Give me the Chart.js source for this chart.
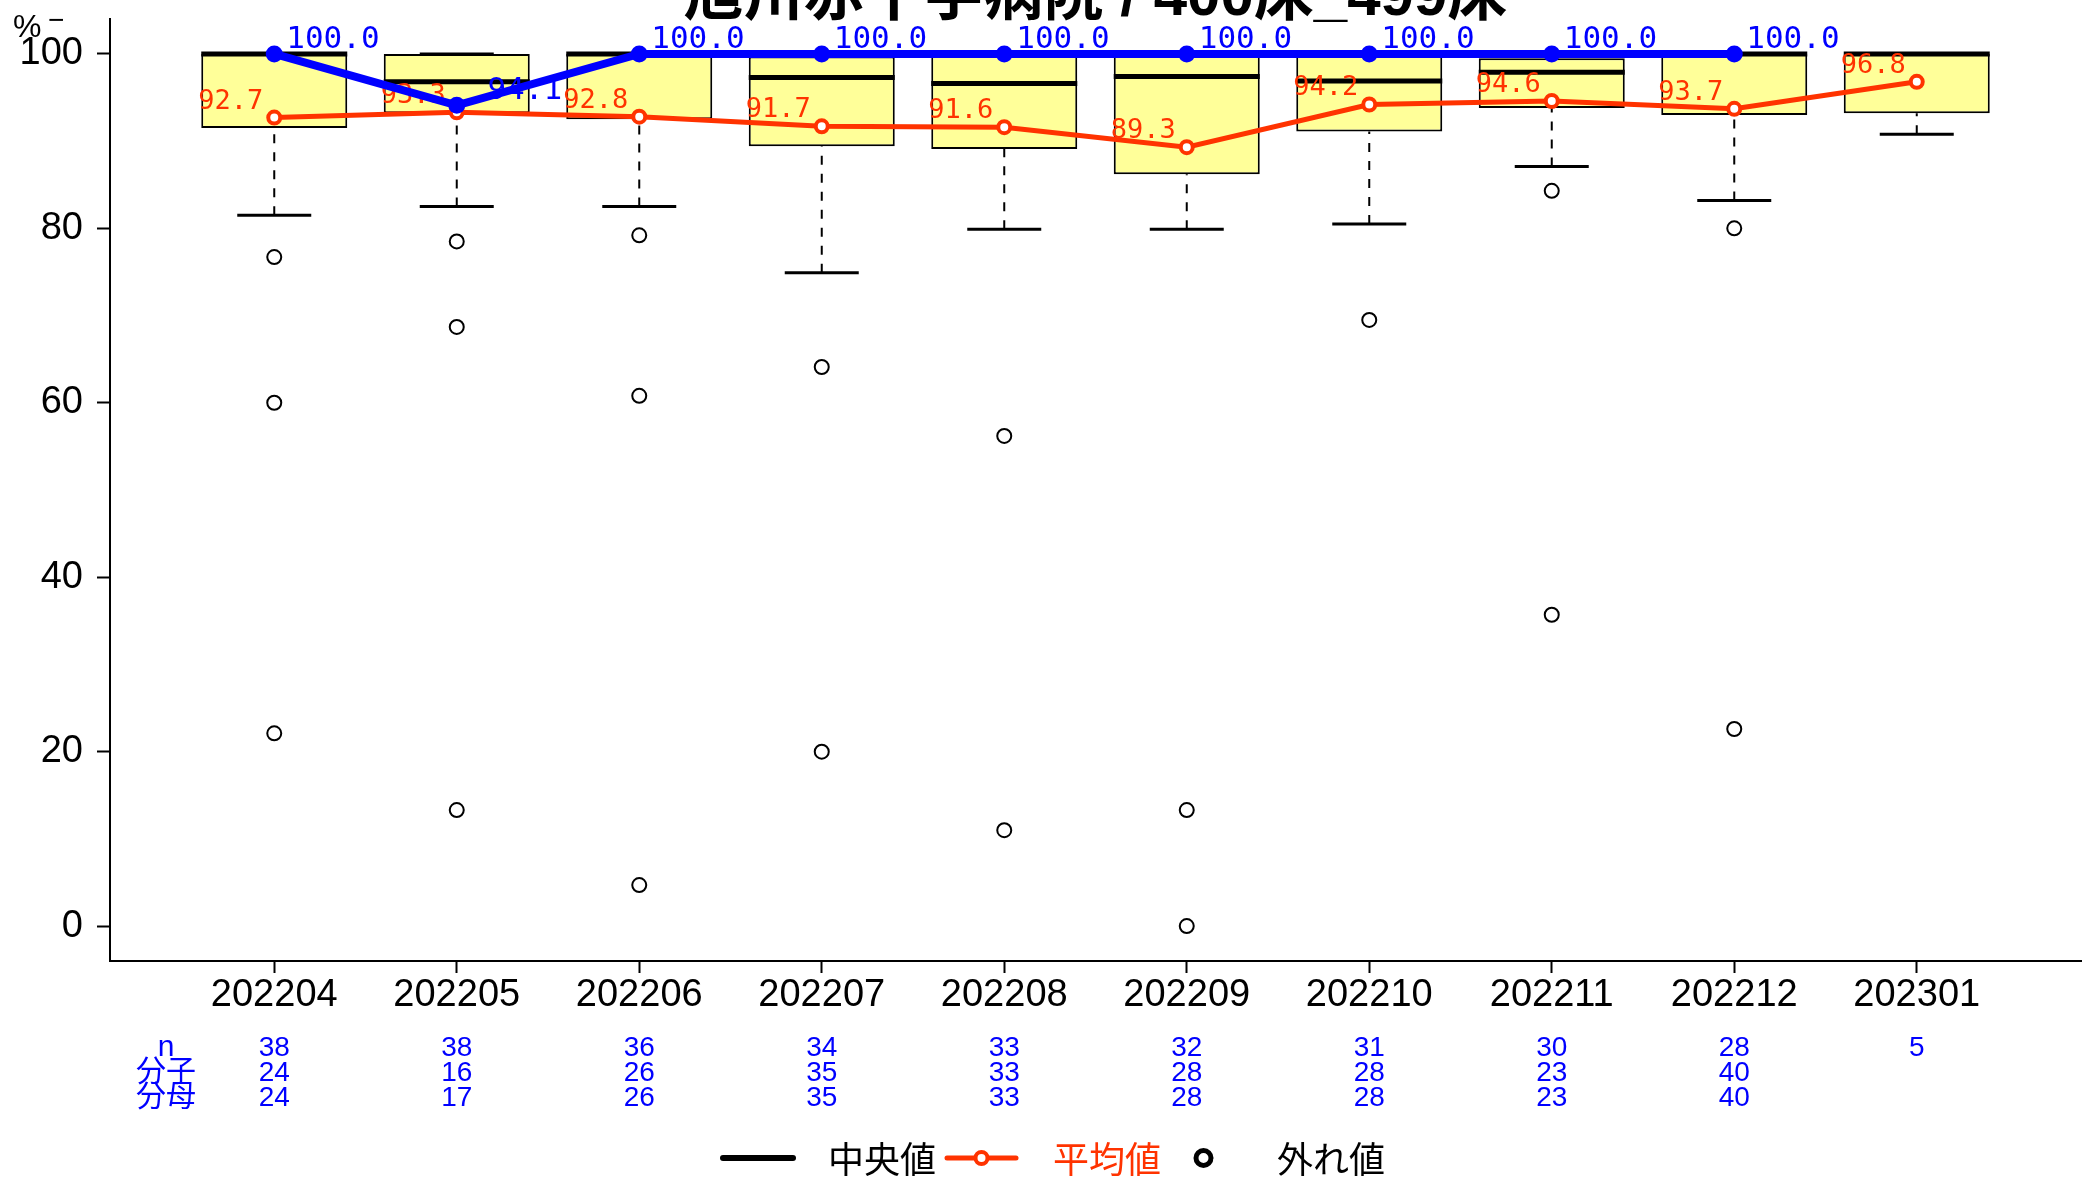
<!DOCTYPE html>
<html>
<head>
<meta charset="utf-8">
<script src="https://cdn.jsdelivr.net/npm/chart.js@4.4.1/dist/chart.umd.min.js"></script>
<style>
    body { margin: 0; background: #fff; }
    #wrap { width: 2089px; height: 1180px; }
</style>
</head>
<body>
<div id="wrap"><canvas id="myChart"></canvas></div>
<script>
const months = ["202204", "202205", "202206", "202207", "202208",
    "202209", "202210", "202211", "202212", "202301"];
const yTicks = [0, 20, 40, 60, 80, 100];

// box plot of all hospitals
const whiskerLow = [81.5, 82.5, 82.5, 74.9, 79.9, 79.9, 80.5, 87.1, 83.2, 90.8];
const boxQ1 = [91.5, 93.2, 92.5, 89.4, 89.1, 86.2, 91.1, 93.8, 93.0, 93.2];
const boxMedian = [100, 96.8, 100, 97.3, 96.6, 97.4, 96.9, 97.9, 100, 100];
const boxQ3 = [100, 100, 100, 99.7, 99.9, 100, 100, 99.5, 100, 100];
const whiskerHigh = [100, 100, 100, 100, 100, 100, 100, 100, 100, 100];
const outliers = [
    [76.7, 60.0, 22.1],
    [78.5, 68.7, 13.3],
    [79.2, 60.8, 4.7],
    [64.1, 20.0],
    [56.2, 11.0],
    [13.3, 0],
    [69.5],
    [84.3, 35.7],
    [80.0, 22.6],
    [],
];
const means = [92.7, 93.3, 92.8, 91.7, 91.6, 89.3, 94.2, 94.6, 93.7, 96.8];

// this hospital
const hospital = [100, 94.1, 100, 100, 100, 100, 100, 100, 100, null];

// table under the axis
const countN = [38, 38, 36, 34, 33, 32, 31, 30, 28, 5];
const numerator = [24, 16, 26, 35, 33, 28, 28, 23, 40, null];
const denominator = [24, 17, 26, 35, 33, 28, 28, 23, 40, null];

const titleText = "旭川赤十字病院 / 400床_499床";
const legendLabels = ["中央値", "平均値", "外れ値"];

const RED = "#ff3300";
const BLUE = "#0000ff";
const SANS = "\"Liberation Sans\", \"Noto Sans CJK JP\", sans-serif";
const MONO = "\"DejaVu Sans Mono\", \"Liberation Mono\", monospace";
const MEAN_INDEX = 5;

function whiskerPoints() {
    const pts = [];
    months.forEach((m, i) => {
        pts.push({ x: i, y: whiskerLow[i] }, { x: i, y: boxQ1[i] }, { x: i, y: null });
        pts.push({ x: i, y: boxQ3[i] }, { x: i, y: whiskerHigh[i] }, { x: i, y: null });
    });
    return pts;
}

function capPoints() {
    const pts = [];
    months.forEach((m, i) => {
        pts.push({ x: i, y: whiskerLow[i] }, { x: i, y: whiskerHigh[i] });
    });
    return pts;
}

function outlierPoints() {
    const pts = [];
    outliers.forEach((list, i) => {
        list.forEach((v) => pts.push({ x: i, y: v }));
    });
    return pts;
}

const decorPlugin = {
    id: "decor",
    afterDatasetDraw(chart, args) {
        if (args.index !== MEAN_INDEX) {
            return;
        }
        const ctx = chart.ctx;
        const xs = chart.scales.x;
        const ys = chart.scales.y;
        ctx.save();
        ctx.font = `27px ${MONO}`;
        ctx.fillStyle = RED;
        ctx.textAlign = "right";
        ctx.textBaseline = "alphabetic";
        means.forEach((v, i) => {
            ctx.fillText(v.toFixed(1), xs.getPixelForValue(i) - 11, ys.getPixelForValue(v) - 9);
        });
        ctx.restore();
    },
    afterDatasetsDraw(chart) {
        const ctx = chart.ctx;
        const xs = chart.scales.x;
        const ys = chart.scales.y;
        ctx.save();
        ctx.font = `31px ${MONO}`;
        ctx.fillStyle = BLUE;
        ctx.textAlign = "left";
        ctx.textBaseline = "alphabetic";
        hospital.forEach((v, i) => {
            if (v === null) {
                return;
            }
            ctx.fillText(v.toFixed(1).padStart(5, " "), xs.getPixelForValue(i) + 12, ys.getPixelForValue(v) - 6);
        });
        ctx.restore();
    },
    afterDraw(chart) {
        const ctx = chart.ctx;
        const xs = chart.scales.x;
        const area = chart.chartArea;
        ctx.save();

        // title, mostly cut off at the top
        ctx.font = `bold 60px ${SANS}`;
        ctx.fillStyle = "#000";
        ctx.textAlign = "center";
        ctx.textBaseline = "alphabetic";
        ctx.fillText(titleText, (area.left + area.right) / 2, 15);

        // unit
        ctx.font = `32px ${SANS}`;
        ctx.textAlign = "left";
        ctx.fillText("%", 13, 37);
        ctx.font = `28px ${SANS}`;
        ctx.fillText("−", 48, 29);

        // n / numerator / denominator table
        const rows = [countN, numerator, denominator];
        const rowLabels = ["n", "分子", "分母"];
        const rowY = [area.bottom + 95, area.bottom + 120, area.bottom + 145];
        ctx.fillStyle = BLUE;
        ctx.textAlign = "center";
        rows.forEach((row, r) => {
            ctx.font = `30px ${SANS}`;
            ctx.fillText(rowLabels[r], 166, rowY[r]);
            ctx.font = `28px ${SANS}`;
            row.forEach((v, i) => {
                if (v === null) {
                    return;
                }
                ctx.fillText(String(v), xs.getPixelForValue(i), rowY[r]);
            });
        });

        // legend
        const ly = 1158;
        ctx.lineCap = "round";
        ctx.strokeStyle = "#000";
        ctx.lineWidth = 6;
        ctx.beginPath();
        ctx.moveTo(723, ly);
        ctx.lineTo(793, ly);
        ctx.stroke();

        ctx.strokeStyle = RED;
        ctx.lineWidth = 5;
        ctx.beginPath();
        ctx.moveTo(947, ly);
        ctx.lineTo(1016, ly);
        ctx.stroke();
        ctx.fillStyle = "#fff";
        ctx.lineWidth = 4;
        ctx.beginPath();
        ctx.arc(981.5, ly, 6, 0, Math.PI * 2);
        ctx.fill();
        ctx.stroke();

        ctx.strokeStyle = "#000";
        ctx.lineWidth = 5;
        ctx.beginPath();
        ctx.arc(1203.5, ly, 7.5, 0, Math.PI * 2);
        ctx.stroke();

        ctx.font = `36px ${SANS}`;
        ctx.textAlign = "left";
        ctx.fillStyle = "#000";
        ctx.fillText(legendLabels[0], 828, 1173);
        ctx.fillStyle = RED;
        ctx.fillText(legendLabels[1], 1053, 1173);
        ctx.fillStyle = "#000";
        ctx.fillText(legendLabels[2], 1277, 1173);

        ctx.restore();
    },
};

function main() {
    const ctx = document.getElementById("myChart");

    new Chart(ctx, {
        type: "bar",
        data: {
            datasets: [
                {
                    type: "line",
                    label: "whisker",
                    data: whiskerPoints(),
                    borderColor: "#000",
                    borderWidth: 2,
                    borderDash: [9, 9],
                    pointRadius: 0,
                    spanGaps: false,
                    order: 9,
                },
                {
                    type: "bar",
                    label: "box",
                    data: months.map((m, i) => ({ x: i, y: [boxQ1[i], boxQ3[i]] })),
                    backgroundColor: "#ffff99",
                    borderColor: "#000",
                    borderWidth: 2,
                    borderSkipped: false,
                    barPercentage: 0.8,
                    categoryPercentage: 1.0,
                    order: 8,
                },
                {
                    type: "scatter",
                    label: "中央値",
                    data: months.map((m, i) => ({ x: i, y: boxMedian[i] })),
                    pointStyle: "line",
                    pointRadius: 73,
                    borderColor: "#000",
                    borderWidth: 5,
                    order: 7,
                },
                {
                    type: "scatter",
                    label: "cap",
                    data: capPoints(),
                    pointStyle: "line",
                    pointRadius: 37,
                    borderColor: "#000",
                    borderWidth: 3,
                    order: 6,
                },
                {
                    type: "scatter",
                    label: "外れ値",
                    data: outlierPoints(),
                    pointStyle: "circle",
                    pointRadius: 7,
                    borderColor: "#000",
                    borderWidth: 2,
                    backgroundColor: "rgba(0,0,0,0)",
                    order: 5,
                },
                {
                    type: "line",
                    label: "平均値",
                    data: months.map((m, i) => ({ x: i, y: means[i] })),
                    borderColor: RED,
                    borderWidth: 5,
                    pointRadius: 6,
                    pointBorderWidth: 4,
                    pointBorderColor: RED,
                    pointBackgroundColor: "#fff",
                    order: 4,
                },
                {
                    type: "line",
                    label: "hospital",
                    data: months.map((m, i) => ({ x: i, y: hospital[i] })),
                    borderColor: BLUE,
                    borderWidth: 8,
                    pointRadius: 8.5,
                    pointBorderWidth: 0,
                    pointBackgroundColor: BLUE,
                    spanGaps: false,
                    order: 2,
                },
            ],
        },
        options: {
            responsive: true,
            maintainAspectRatio: false,
            animation: false,
            events: [],
            devicePixelRatio: 1,
            layout: {
                autoPadding: false,
                padding: { top: 19, right: 8, bottom: 0, left: 0 },
            },
            plugins: {
                legend: { display: false },
                tooltip: { enabled: false },
            },
            scales: {
                x: {
                    type: "linear",
                    min: -0.9,
                    max: 9.9,
                    offset: false,
                    afterBuildTicks: (axis) => {
                        axis.ticks = months.map((m, i) => ({ value: i }));
                    },
                    afterFit: (axis) => {
                        axis.height = 219;
                        axis.paddingLeft = 0;
                        axis.paddingRight = 0;
                    },
                    ticks: {
                        callback: (v) => months[v],
                        color: "#000",
                        font: { family: SANS, size: 38 },
                        padding: 0,
                        maxRotation: 0,
                        autoSkip: false,
                    },
                    grid: {
                        offset: false,
                        drawOnChartArea: false,
                        drawTicks: true,
                        tickLength: 12,
                        tickColor: "#000",
                        tickWidth: 2,
                    },
                    border: { display: true, color: "#000", width: 2 },
                },
                y: {
                    min: -4,
                    max: 104,
                    afterBuildTicks: (axis) => {
                        axis.ticks = yTicks.map((v) => ({ value: v }));
                    },
                    afterFit: (axis) => {
                        axis.width = 110;
                        axis.paddingTop = 0;
                        axis.paddingBottom = 0;
                    },
                    ticks: {
                        color: "#000",
                        font: { family: SANS, size: 38 },
                        padding: 14,
                    },
                    grid: {
                        drawOnChartArea: false,
                        drawTicks: true,
                        tickLength: 13,
                        tickColor: "#000",
                        tickWidth: 2,
                    },
                    border: { display: true, color: "#000", width: 2 },
                },
            },
        },
        plugins: [decorPlugin],
    });
}

main();
</script>
</body>
</html>
